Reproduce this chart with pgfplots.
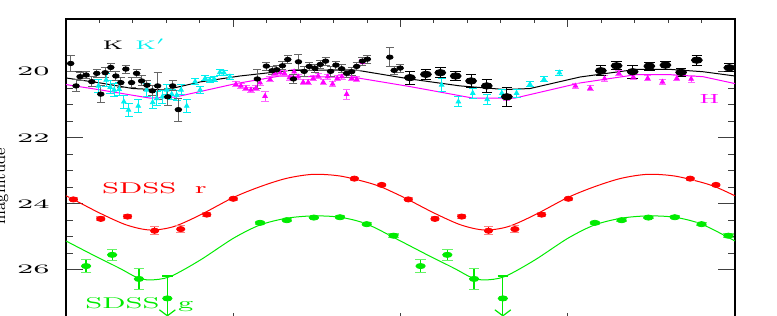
\documentclass[border=0pt]{standalone}
\usepackage{pgfplots}
\pgfplotsset{compat=1.18}
\usepackage{graphicx}
\usetikzlibrary{arrows.meta}
\definecolor{kcyan}{RGB}{0,240,240}
\definecolor{hmag}{RGB}{255,0,255}
\definecolor{sred}{RGB}{255,0,0}
\definecolor{sgreen}{RGB}{0,235,0}
\newcommand{\wide}[2]{\scalebox{#1}[1]{#2}}
\begin{document}
\begin{tikzpicture}
\useasboundingbox (0,0) rectangle (388.5pt,158pt);
\clip (0,0) rectangle (388.5pt,158pt);
\node[rotate=90, anchor=base, inner sep=0pt, font=\fontsize{7.8}{9}\selectfont] at (2.5pt,65pt) {magnitude};
% x ticks only
\begin{axis}[at={(33pt,-2.425pt)}, anchor=south west, scale only axis,
  width=334.5pt, height=150.975pt,
  xmin=0, xmax=2, ymin=18.4, ymax=27.55, y dir=reverse,
  ytick=\empty, xtick={0,0.5,...,2}, minor x tick num=4, xticklabel=\empty,
  tick align=inside, xtick pos=both,
  major tick length=3.8pt, minor tick length=2pt,
  tick style={line width=0.5pt, black!75},
  axis line style={line width=0.8pt}]
\end{axis}
\begin{axis}[at={(33pt,-2.425pt)}, anchor=south west, scale only axis,
  width=334.5pt, height=150.975pt,
  xmin=0, xmax=2, ymin=18.4, ymax=27.55, y dir=reverse,
  xtick=\empty, ytick={20,22,24,26}, minor y tick num=3,
  tick align=inside, ytick pos=both, yticklabel pos=left,
  major tick length=8.5pt, minor tick length=3.5pt,
  tick style={line width=0.5pt, black!75},
  axis line style={line width=0.8pt},
  /pgf/number format/assume math mode=true,
  yticklabel={\wide{2.2}{\pgfmathprintnumber{\tick}}},
  yticklabel style={font=\fontsize{6.5}{7}\selectfont, inner sep=0pt, xshift=-8pt},
  clip=false]
% ---- model curves ----
\addplot[black, line width=0.5pt] coordinates {
(0,20.19) (0.102,20.34) (0.200,20.51) (0.296,20.555) (0.401,20.31) (0.520,20.13)
(0.670,19.96) (0.867,19.95) (1.028,20.22) (1.178,20.43) (1.312,20.54) (1.387,20.51)
(1.537,20.16) (1.704,19.93) (1.806,19.93) (1.904,20.0) (2.0,20.13)};
\addplot[hmag, line width=0.5pt] coordinates {
(0,20.39) (0.102,20.55) (0.251,20.80) (0.326,20.77) (0.508,20.36) (0.640,20.13)
(0.867,20.18) (1.028,20.45) (1.217,20.80) (1.342,20.80) (1.537,20.34) (1.704,20.09)
(1.806,20.09) (1.904,20.15) (2.0,20.36)};
\addplot[sred, line width=0.5pt, smooth] coordinates {
(0,23.76) (0.022,23.87) (0.102,24.29) (0.181,24.645) (0.251,24.797) (0.321,24.697)
(0.401,24.342) (0.499,23.818) (0.580,23.485) (0.660,23.23) (0.739,23.11) (0.819,23.16)
(0.899,23.35) (0.944,23.50) (1.0,23.76) (1.022,23.87) (1.102,24.29) (1.181,24.645)
(1.251,24.797) (1.321,24.697) (1.401,24.342) (1.499,23.818) (1.580,23.485) (1.660,23.23)
(1.739,23.11) (1.819,23.16) (1.899,23.35) (1.944,23.50) (2.0,23.76)};
\addplot[sgreen, line width=0.5pt, smooth] coordinates {
(0,25.13) (0.081,25.555) (0.161,25.96) (0.211,26.23) (0.251,26.31) (0.311,26.21)
(0.401,25.71) (0.500,25.05) (0.580,24.645) (0.660,24.44) (0.739,24.37) (0.819,24.41)
(0.899,24.615) (1.0,25.13) (1.081,25.555) (1.161,25.96) (1.211,26.23) (1.251,26.31)
(1.311,26.21) (1.401,25.71) (1.500,25.05) (1.580,24.645) (1.660,24.44) (1.739,24.37)
(1.819,24.41) (1.899,24.615) (2.0,25.13)};
% ---- H (magenta) ----
\addplot[hmag, only marks, mark=triangle*, mark size=1.3pt,
  error bars/.cd, y dir=both, y explicit,
  error bar style={hmag!70, line width=0.5pt},
  error mark options={rotate=90, hmag!60, mark size=1.8pt, line width=0.5pt}] coordinates {
(0.508,20.38) +- (0,0.08) (0.523,20.43) +- (0,0.08) (0.538,20.50) +- (0,0.08)
(0.553,20.55) +- (0,0.08) (0.568,20.50) +- (0,0.08) (0.580,20.33) +- (0,0.08)
(0.595,20.74) +- (0,0.15) (0.610,20.23) +- (0,0.08) (0.625,20.05) +- (0,0.08)
(0.640,20.03) +- (0,0.08) (0.653,20.05) +- (0,0.08) (0.668,20.18) +- (0,0.08)
(0.682,20.00) +- (0,0.08) (0.694,20.15) +- (0,0.08) (0.709,20.32) +- (0,0.08)
(0.724,20.32) +- (0,0.08) (0.739,20.20) +- (0,0.08) (0.754,20.13) +- (0,0.08)
(0.769,20.32) +- (0,0.08) (0.782,20.15) +- (0,0.08) (0.797,20.37) +- (0,0.08)
(0.811,20.20) +- (0,0.08) (0.825,20.15) +- (0,0.08) (0.839,20.68) +- (0,0.15)
(0.854,20.20) +- (0,0.08) (0.869,20.23) +- (0,0.08) (0.886,19.72) +- (0,0.08)
(1.316,20.78) +- (0,0.08)
(1.523,20.43) +- (0,0.08) (1.567,20.50) +- (0,0.08) (1.610,20.21) +- (0,0.08)
(1.653,20.05) +- (0,0.08) (1.696,20.16) +- (0,0.08) (1.739,20.20) +- (0,0.08)
(1.783,20.31) +- (0,0.08) (1.826,20.20) +- (0,0.08) (1.869,20.22) +- (0,0.10)};
% ---- K' (cyan) ----
\addplot[kcyan, only marks, mark=triangle*, mark size=1.3pt,
  error bars/.cd, y dir=both, y explicit,
  error bar style={kcyan, line width=0.5pt},
  error mark options={rotate=90, kcyan, mark size=2pt, line width=0.5pt}] coordinates {
(0.097,20.43) +- (0,0.2) (0.120,20.25) +- (0,0.2) (0.132,20.47) +- (0,0.2)
(0.144,20.55) +- (0,0.2) (0.159,20.53) +- (0,0.2) (0.173,20.91) +- (0,0.2)
(0.187,21.16) +- (0,0.2) (0.216,21.04) +- (0,0.2) (0.241,20.55) +- (0,0.2)
(0.259,20.93) +- (0,0.2) (0.271,20.81) +- (0,0.2) (0.288,20.76) +- (0,0.2)
(0.301,20.55) +- (0,0.15) (0.316,20.68) +- (0,0.15) (0.331,20.71) +- (0,0.15)
(0.344,20.55) +- (0,0.15) (0.361,21.04) +- (0,0.2) (0.386,20.30) +- (0,0.1)
(0.401,20.55) +- (0,0.1) (0.416,20.20) +- (0,0.08) (0.430,20.25) +- (0,0.08)
(0.443,20.22) +- (0,0.08) (0.460,20.02) +- (0,0.08) (0.472,20.03) +- (0,0.08)
(0.490,20.15) +- (0,0.08)
(1.123,20.40) +- (0,0.2) (1.173,20.91) +- (0,0.15) (1.216,20.65) +- (0,0.15)
(1.259,20.84) +- (0,0.15) (1.303,20.65) +- (0,0.12) (1.347,20.65) +- (0,0.12)
(1.387,20.38) +- (0,0.08) (1.429,20.23) +- (0,0.08) (1.475,20.03) +- (0,0.08)};
% ---- K (black, small) ----
\addplot[black, only marks, mark=*, mark size=1.1pt, mark options={xscale=1.5},
  error bars/.cd, y dir=both, y explicit,
  error bar style={black!60, line width=0.5pt},
  error mark options={rotate=90, black!60, mark size=2pt, line width=0.5pt}] coordinates {
(0.014,19.75) +- (0,0.25) (0.030,20.43) +- (0,0.18) (0.042,20.15) +- (0,0.12)
(0.060,20.10) +- (0,0.12) (0.077,20.30) +- (0,0.15) (0.092,20.05) +- (0,0.12)
(0.104,20.68) +- (0,0.25) (0.117,20.03) +- (0,0.15) (0.134,19.87) +- (0,0.12)
(0.149,20.13) +- (0,0.15) (0.164,20.33) +- (0,0.15) (0.179,19.92) +- (0,0.12)
(0.196,20.33) +- (0,0.15) (0.211,20.05) +- (0,0.12) (0.226,20.28) +- (0,0.15)
(0.242,20.41) +- (0,0.15) (0.258,20.58) +- (0,0.15) (0.274,20.43) +- (0,0.40)
(0.304,20.76) +- (0,0.25) (0.319,20.43) +- (0,0.15) (0.336,21.15) +- (0,0.35)
(0.572,20.22) +- (0,0.28) (0.599,19.83) +- (0,0.12) (0.616,19.97) +- (0,0.12)
(0.630,19.94) +- (0,0.12) (0.647,19.82) +- (0,0.12) (0.663,19.63) +- (0,0.12)
(0.680,20.22) +- (0,0.15) (0.695,19.70) +- (0,0.22) (0.712,19.99) +- (0,0.15)
(0.727,19.84) +- (0,0.12) (0.744,19.89) +- (0,0.12) (0.760,19.78) +- (0,0.12)
(0.776,19.68) +- (0,0.12) (0.791,19.99) +- (0,0.15) (0.807,19.80) +- (0,0.12)
(0.824,19.91) +- (0,0.12) (0.839,20.05) +- (0,0.12) (0.854,20.00) +- (0,0.12)
(0.869,19.84) +- (0,0.12) (0.886,19.68) +- (0,0.12) (0.901,19.62) +- (0,0.12)
(0.968,19.56) +- (0,0.28) (0.981,19.96) +- (0,0.12) (0.999,19.89) +- (0,0.12)};
% ---- K (black, large) ----
\addplot[black, only marks, mark=*, mark size=1.6pt, mark options={xscale=1.7},
  error bars/.cd, y dir=both, y explicit,
  error bar style={black, line width=0.5pt},
  error mark options={rotate=90, black, mark size=2.6pt, line width=0.5pt}] coordinates {
(1.028,20.18) +- (0,0.20) (1.076,20.08) +- (0,0.15) (1.119,20.03) +- (0,0.15)
(1.165,20.13) +- (0,0.15) (1.211,20.28) +- (0,0.20) (1.258,20.43) +- (0,0.20)
(1.318,20.76) +- (0,0.28) (1.599,19.97) +- (0,0.15) (1.646,19.82) +- (0,0.12)
(1.694,20.00) +- (0,0.20) (1.744,19.83) +- (0,0.12) (1.792,19.80) +- (0,0.12)
(1.839,20.02) +- (0,0.12) (1.886,19.65) +- (0,0.15) (1.983,19.88) +- (0,0.12)};
% ---- SDSS r ----
\addplot[sred, only marks, mark=*, mark size=1.3pt, mark options={xscale=1.6},
  error bars/.cd, y dir=both, y explicit,
  error bar style={sred, line width=0.5pt},
  error mark options={rotate=90, sred!50, mark size=2.2pt, line width=0.6pt}] coordinates {
(0.022,23.87) +- (0,0.04) (0.104,24.46) +- (0,0.06) (0.184,24.39) +- (0,0.05)
(0.265,24.82) +- (0,0.12) (0.343,24.77) +- (0,0.10) (0.421,24.33) +- (0,0.06)
(0.500,23.85) +- (0,0.04) (0.862,23.24) +- (0,0.04) (0.944,23.43) +- (0,0.05)
(1.023,23.87) +- (0,0.04) (1.103,24.46) +- (0,0.06) (1.183,24.39) +- (0,0.05)
(1.263,24.82) +- (0,0.12) (1.342,24.77) +- (0,0.10) (1.422,24.33) +- (0,0.06)
(1.502,23.85) +- (0,0.04) (1.866,23.24) +- (0,0.04) (1.943,23.43) +- (0,0.05)};
% ---- SDSS g ----
\addplot[sgreen, only marks, mark=*, mark size=1.3pt, mark options={xscale=1.8},
  error bars/.cd, y dir=both, y explicit,
  error bar style={sgreen, line width=0.6pt},
  error mark options={rotate=90, sgreen!60, mark size=2.6pt, line width=0.6pt}] coordinates {
(0.060,25.89) +- (0,0.20) (0.138,25.55) +- (0,0.17) (0.218,26.28) +- (0,0.32)
(0.580,24.58) +- (0,0.05) (0.660,24.50) +- (0,0.05) (0.741,24.42) +- (0,0.04)
(0.819,24.41) +- (0,0.04) (0.899,24.62) +- (0,0.04) (0.979,24.97) +- (0,0.05)
(1.060,25.89) +- (0,0.20) (1.140,25.55) +- (0,0.17) (1.220,26.28) +- (0,0.32)
(1.581,24.58) +- (0,0.05) (1.661,24.50) +- (0,0.05) (1.741,24.42) +- (0,0.04)
(1.820,24.41) +- (0,0.04) (1.900,24.62) +- (0,0.04) (1.980,24.97) +- (0,0.05)};
% upper limits (g)
\addplot[sgreen, line width=0.6pt, -{Straight Barb[length=3pt,width=8pt]}] coordinates {(0.303,26.19) (0.303,27.42)};
\addplot[sgreen, line width=0.6pt, -{Straight Barb[length=3pt,width=8pt]}] coordinates {(1.306,26.19) (1.306,27.42)};
\addplot[sgreen, only marks, mark=*, mark size=1.3pt, mark options={xscale=1.8},
  error bars/.cd, y dir=minus, y explicit,
  error bar style={sgreen, line width=0.6pt},
  error mark options={rotate=90, sgreen, mark size=2.6pt, line width=0.6pt}] coordinates {
(0.303,26.87) -= (0,0.68) (1.306,26.87) -= (0,0.68)};
% ---- labels ----
\node[anchor=base west, inner sep=0pt, font=\fontsize{6.2}{7}\selectfont] at (axis cs:0.108,19.34) {\wide{1.8}{K}};
\node[anchor=base west, inner sep=0pt, text=kcyan, font=\fontsize{6.2}{7}\selectfont] at (axis cs:0.206,19.34) {\wide{1.8}{K$'$}};
\node[anchor=base west, inner sep=0pt, text=hmag, font=\fontsize{6.6}{7}\selectfont] at (axis cs:1.892,20.95) {\wide{1.8}{H}};
\node[anchor=base west, inner sep=0pt, text=sred, font=\fontsize{7.8}{9}\selectfont] at (axis cs:0.107,23.685) {\wide{1.84}{SDSS\hspace{0.65em}r}};
\node[anchor=base west, inner sep=0pt, text=sgreen, font=\fontsize{7.8}{9}\selectfont] at (axis cs:0.057,27.17) {\wide{1.84}{SDSS\hspace{0.65em}g}};
\end{axis}
\end{tikzpicture}
\end{document}
